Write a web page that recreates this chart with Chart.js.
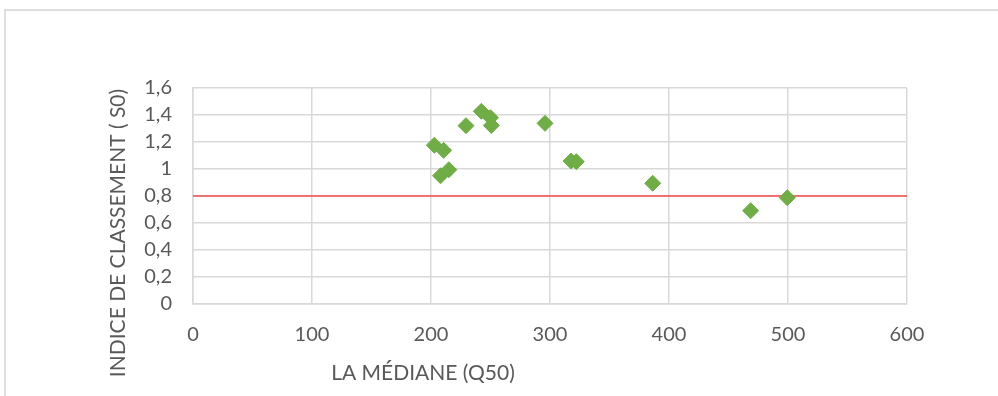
<!DOCTYPE html>
<html>
<head>
<meta charset="utf-8">
<script src="https://cdn.jsdelivr.net/npm/chart.js@4/dist/chart.umd.min.js"></script>
<style>
  html, body { margin: 0; padding: 0; background: #fff; }
  #wrap { position: relative; width: 998px; height: 396px; overflow: hidden; }
  #frame { position: absolute; left: 4px; top: 9px; width: 1100px; height: 500px; border: 2px solid #dedede; box-sizing: border-box; }
  #c { position: absolute; left: 0; top: 0; }
</style>
</head>
<body>
<div id="wrap">
  <div id="frame"></div>
  <canvas id="c" width="998" height="396"></canvas>
</div>
<script>
const medianes = [202.8, 210.6, 208, 215, 229.4, 242.3, 250, 250.7, 295.8, 317.6, 322.1, 386.3, 468.6, 499.4];
const indices  = [1.176, 1.138, 0.95, 0.995, 1.321, 1.427, 1.38, 1.323, 1.338, 1.059, 1.054, 0.894, 0.691, 0.787];
const seuilX = [0, 600];
const seuilY = [0.8, 0.8];
const xTitle = 'LA MÉDIANE (Q50)';
const yTitle = 'INDICE DE CLASSEMENT ( S0)';

const FONT = 'Lato, "Open Sans", sans-serif';
const TXT = '#595959';

const points = medianes.map((m, i) => ({ x: m, y: indices[i] }));
const seuil = seuilX.map((x, i) => ({ x: x, y: seuilY[i] }));

const titlesPlugin = {
  id: 'titles',
  afterDraw(chart) {
    const ctx = chart.ctx;
    const a = chart.chartArea;
    ctx.save();
    ctx.fillStyle = TXT;
    ctx.font = '21px ' + FONT;
    ctx.textBaseline = 'middle';
    ctx.textAlign = 'center';
    ctx.fillText(xTitle, a.left + 230, a.bottom + 69);
    ctx.translate(a.left - 75, a.top + 145);
    ctx.rotate(-Math.PI / 2);
    ctx.fillText(yTitle, 0, 0);
    ctx.restore();
  }
};

new Chart(document.getElementById('c'), {
  type: 'scatter',
  data: {
    datasets: [
      {
        data: points,
        backgroundColor: '#70AD47',
        borderColor: '#70AD47',
        borderWidth: 1,
        pointStyle: 'rectRot',
        pointRadius: 8,
        order: 1
      },
      {
        data: seuil,
        showLine: true,
        borderColor: '#ff0000',
        borderWidth: 1,
        pointRadius: 0,
        order: 2
      }
    ]
  },
  options: {
    responsive: false,
    animation: false,
    layout: { padding: { left: 0, top: 88, right: 91, bottom: 0 } },
    plugins: { legend: { display: false }, tooltip: { enabled: false } },
    scales: {
      x: {
        type: 'linear', min: 0, max: 600,
        ticks: { stepSize: 100, color: TXT, font: { family: FONT, size: 20 }, padding: 19, maxRotation: 0 },
        grid: { color: '#d9d9d9', lineWidth: 1.5, drawTicks: false },
        border: { color: '#d9d9d9', width: 1.5 },
        afterFit(s) { s.height = 92; }
      },
      y: {
        type: 'linear', min: 0, max: 1.6,
        ticks: {
          stepSize: 0.2, color: TXT, font: { family: FONT, size: 20 }, padding: 21,
          callback: v => (Math.round(v * 10) / 10).toString().replace('.', ',')
        },
        grid: { color: '#d9d9d9', lineWidth: 1.5, drawTicks: false },
        border: { color: '#d9d9d9', width: 1.5 },
        afterFit(s) { s.width = 193; }
      }
    }
  },
  plugins: [titlesPlugin]
});
</script>
</body>
</html>
